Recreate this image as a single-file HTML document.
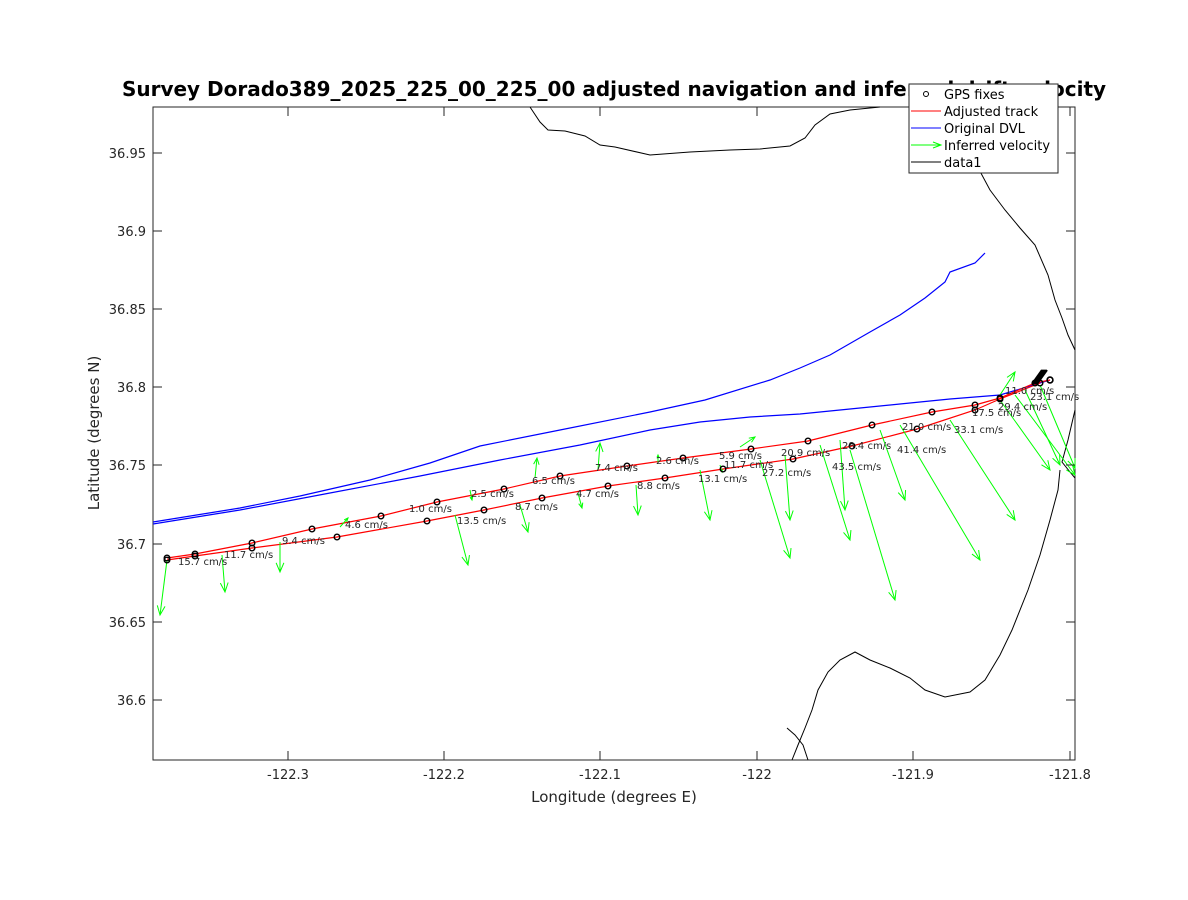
<!DOCTYPE html>
<html><head><meta charset="utf-8"><style>
body{margin:0;background:#fff;}
svg{display:block;font-family:"DejaVu Sans","Liberation Sans",sans-serif;}
</style></head><body>
<svg id="s" width="1188" height="900" viewBox="0 0 1188 900">
<rect width="1188" height="900" fill="#fff"/>
<rect x="153" y="107" width="922" height="653" fill="#fff" stroke="#262626" stroke-width="1"/>
<g fill="none" stroke="#000" stroke-width="1">
<polyline points="530,107 540,122 548,130 565,131 585,136 600,145 615,147 650,155 690,152 730,150 760,149 790,146 805,138 815,125 830,114 850,110 870,108 880,107"/>
<polyline points="960,140 975,162 990,190 1005,210 1020,228 1035,245 1048,275 1055,300 1062,318 1068,335 1075,350"/>
<polyline points="1075,410 1068,440 1062,462 1070,472 1075,478"/>
<polyline points="1060,470 1058,490 1050,520 1040,555 1028,590 1012,630 1000,655 985,680 970,692 945,697 925,690 910,678 890,668 870,660 855,652 840,660 828,672 818,690 812,710 805,728 798,745 792,760"/>
<polyline points="787,728 795,735 803,745 808,760"/>
</g>
<g fill="none" stroke="#0000ff" stroke-width="1.2">
<polyline points="153,524 240,510 330,493 420,476 500,460 580,445 650,430 700,422 750,417 800,414 860,408 900,404 950,399 1000,395 1050,380"/>
<polyline points="153,522 240,508 300,496 370,480 430,463 480,446 560,430 650,412 705,400 770,380 800,368 830,355 870,332 900,315 925,298 945,282 950,272 975,263 985,253"/>
</g>
<g fill="none" stroke="#ff0000" stroke-width="1.2">
<polyline id="ra" points="167,558 195,554 252,543 312,529 381,516 437,502 504,489 560,476 627,466 683,458 751,449 808,441 872,425 932,412 975,405 1000,398 1035,383 1050,380"/>
<polyline id="rb" points="167,560 195,556 252,548 337,537 427,521 484,510 542,498 608,486 665,478 723,469 793,459 852,446 917,429 975,410 1000,399 1040,383"/>
</g>
<g id="arr" fill="none" stroke="#00ff00" stroke-width="1"></g>
<g id="gps" fill="none" stroke="#000" stroke-width="1.4"></g>
<g id="lab" font-size="10" fill="#262626"></g>
<g id="ticks" stroke="#262626" stroke-width="1"></g>
<g font-size="13" fill="#262626" id="tl"></g>
<text x="614" y="802" font-size="15" text-anchor="middle" fill="#262626">Longitude (degrees E)</text>
<text transform="translate(99,433) rotate(-90)" font-size="15" text-anchor="middle" fill="#262626">Latitude (degrees N)</text>
<text x="614" y="96" font-size="20" font-weight="bold" text-anchor="middle" fill="#000">Survey Dorado389_2025_225_00_225_00 adjusted navigation and inferred drift velocity</text>
<rect x="909" y="84" width="149" height="89" fill="#fff" stroke="#262626"/>
<circle cx="926" cy="94" r="2.5" fill="none" stroke="#000"/>
<line x1="911" y1="111" x2="941" y2="111" stroke="#ff0000"/>
<line x1="911" y1="128" x2="941" y2="128" stroke="#0000ff"/>
<line x1="911" y1="145" x2="941" y2="145" stroke="#00ff00"/>
<polyline points="933,142 941,145 933,148" fill="none" stroke="#00ff00"/>
<line x1="911" y1="162" x2="941" y2="162" stroke="#000"/>
<g font-size="13" fill="#000">
<text x="944" y="99">GPS fixes</text>
<text x="944" y="116">Adjusted track</text>
<text x="944" y="133">Original DVL</text>
<text x="944" y="150">Inferred velocity</text>
<text x="944" y="167">data1</text>
</g>
</svg>
<script>
var NS="http://www.w3.org/2000/svg";
function el(p,t,a){var e=document.createElementNS(NS,t);for(var k in a)e.setAttribute(k,a[k]);document.getElementById(p).appendChild(e);return e;}
var xt=[[288,"-122.3"],[444,"-122.2"],[600,"-122.1"],[757,"-122"],[913,"-121.9"],[1070,"-121.8"]];
xt.forEach(function(t){el("ticks","line",{x1:t[0],y1:760,x2:t[0],y2:751});el("ticks","line",{x1:t[0],y1:107,x2:t[0],y2:116});
var tx=el("tl","text",{x:t[0],y:779,"text-anchor":"middle"});tx.textContent=t[1];});
var yt=[[153,"36.95"],[231,"36.9"],[309,"36.85"],[387,"36.8"],[465,"36.75"],[544,"36.7"],[622,"36.65"],[700,"36.6"]];
yt.forEach(function(t){el("ticks","line",{x1:153,y1:t[0],x2:162,y2:t[0]});el("ticks","line",{x1:1075,y1:t[0],x2:1066,y2:t[0]});
var tx=el("tl","text",{x:146,y:t[0]+5,"text-anchor":"end"});tx.textContent=t[1];});
var A=[[167,560,160,615],[222,555,225,592],[280,542,280,572],[340,527,348,518],[455,515,468,565],[520,505,528,532],[470,490,472,500],[535,478,537,458],[578,493,582,508],[598,470,600,443],[636,485,638,515],[658,462,658,455],[700,470,710,520],[720,465,722,472],[740,447,755,437],[760,460,790,558],[785,455,790,520],[820,445,850,540],[840,440,845,510],[850,450,895,600],[880,430,905,500],[900,425,980,560],[950,420,1015,520],[1000,400,1050,470],[1015,395,1075,475],[1000,395,1015,372],[1025,390,1060,465],[1040,385,1075,468]];
A.forEach(function(a){var dx=a[2]-a[0],dy=a[3]-a[1],L=Math.hypot(dx,dy),h=Math.min(10,L*0.35),ux=dx/L,uy=dy/L;
el("arr","line",{x1:a[0],y1:a[1],x2:a[2],y2:a[3]});
var c=Math.cos(0.4),s=Math.sin(0.4);
var p1=[a[2]-h*(ux*c-uy*s),a[3]-h*(uy*c+ux*s)],p2=[a[2]-h*(ux*c+uy*s),a[3]-h*(uy*c-ux*s)];
el("arr","polyline",{points:p1.join(",")+" "+a[2]+","+a[3]+" "+p2.join(",")});});
["ra","rb"].forEach(function(id){document.getElementById(id).getAttribute("points").trim().split(/\s+/).forEach(function(p){var q=p.split(",");el("gps","circle",{cx:q[0],cy:q[1],r:2.8});});});
el("gps","circle",{cx:1050,cy:380,r:3});
for(var i=0;i<6;i++)el("gps","line",{x1:1032+i,y1:384,x2:1042+i,y2:370,"stroke-width":2});
var Lb=[["15.7",178,565],["11.7",224,558],["9.4",282,544],["4.6",345,528],["1.0",409,512],["13.5",457,524],["2.5",471,497],["8.7",515,510],["6.5",532,484],["4.7",576,497],["7.4",595,471],["8.8",637,489],["2.6",656,464],["13.1",698,482],["5.9",719,459],["11.7",724,468],["20.9",781,456],["27.2",762,476],["28.4",842,449],["43.5",832,470],["21.0",902,430],["41.4",897,453],["33.1",954,433],["17.5",972,416],["29.4",998,410],["23.1",1030,400],["11.0",1005,394]];
Lb.forEach(function(l){var t=el("lab","text",{x:l[1],y:l[2]});t.textContent=l[0]+" cm/s";});
</script>
</body></html>
